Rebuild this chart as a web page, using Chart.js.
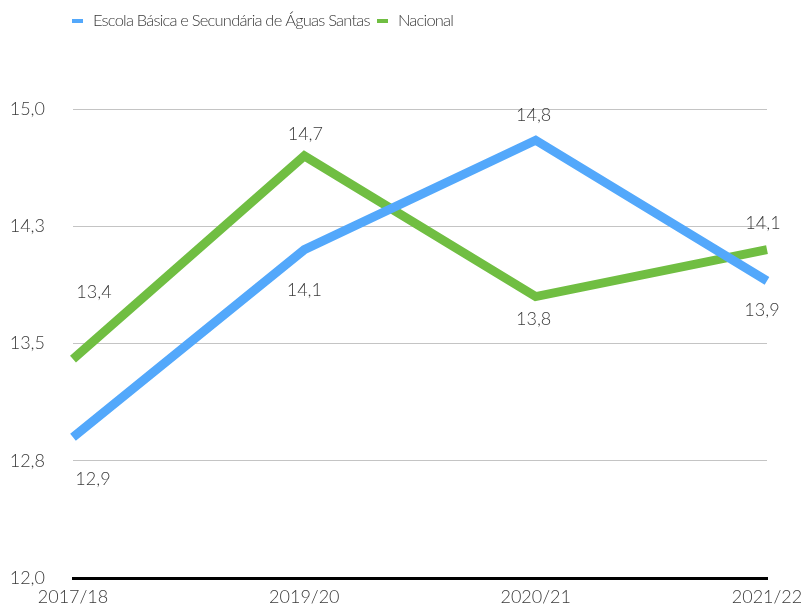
<!DOCTYPE html>
<html>
<head>
<meta charset="utf-8">
<script src="https://cdn.jsdelivr.net/npm/chart.js@4"></script>
<style>
  html, body { margin: 0; padding: 0; background: #fff; }
  #wrap { width: 804px; height: 611px; }
</style>
</head>
<body>
<div id="wrap"><canvas id="chart" width="804" height="611"></canvas></div>
<script>
// dados do gráfico
const anos = ["2017/18", "2019/20", "2020/21", "2021/22"];
const escola = [12.9, 14.1, 14.8, 13.9];
const nacional = [13.4, 14.7, 13.8, 14.1];
const nomes = ["Escola Básica e Secundária de Águas Santas", "Nacional"];
const yTicks = [12.0, 12.75, 13.5, 14.25, 15.0];

// posição dos rótulos em relação ao ponto (px)
const rotuloEscola = { dx: [20, 0, -2, -5], dy: [42, 40, -25, 29] };
const rotuloNacional = { dx: [21, 1, -2, -4], dy: [-67, -22, 23, -27] };

const FONTE = '"Gill Sans", "Gill Sans MT", Lato, sans-serif';
const COR_TEXTO = "#3a3a3a";
const AZUL = "#53a8fb";
const VERDE = "#70be42";

const fmt = v => v.toFixed(1).replace(".", ",");

// rótulos de dados + legenda desenhados sobre o canvas
const rotulos = {
  id: "rotulos",
  afterDatasetsDraw(chart) {
    const ctx = chart.ctx;
    ctx.save();
    ctx.font = `300 18px ${FONTE}`;
    ctx.fillStyle = COR_TEXTO;
    ctx.textAlign = "center";
    ctx.textBaseline = "middle";
    const offs = [rotuloEscola, rotuloNacional];
    chart.data.datasets.forEach((ds, i) => {
      chart.getDatasetMeta(i).data.forEach((pt, j) => {
        ctx.fillText(fmt(ds.data[j]), pt.x + offs[i].dx[j], pt.y + offs[i].dy[j]);
      });
    });

    // legenda
    const itens = [{ x: 72, cor: AZUL }, { x: 377, cor: VERDE }];
    ctx.font = `300 16.5px ${FONTE}`;
    ctx.letterSpacing = "-0.8px";
    ctx.textAlign = "left";
    itens.forEach((it, i) => {
      ctx.fillStyle = it.cor;
      ctx.fillRect(it.x, 19, 11, 4);
      ctx.fillStyle = COR_TEXTO;
      ctx.fillText(chart.data.datasets[i].label, it.x + 21, 21);
    });
    ctx.restore();
  }
};

new Chart(document.getElementById("chart"), {
  type: "line",
  data: {
    labels: anos,
    datasets: [
      { label: nomes[0], data: escola, borderColor: AZUL, backgroundColor: AZUL },
      { label: nomes[1], data: nacional, borderColor: VERDE, backgroundColor: VERDE }
    ]
  },
  options: {
    responsive: false,
    animation: false,
    layout: { padding: { top: 109, right: 37, left: 0, bottom: 0 } },
    elements: {
      line: { borderWidth: 9, tension: 0, borderCapStyle: "butt", borderJoinStyle: "miter" },
      point: { radius: 0, hoverRadius: 0 }
    },
    plugins: {
      legend: { display: false },
      tooltip: { enabled: false }
    },
    scales: {
      x: {
        offset: false,
        afterFit: s => { s.height = 33; s.paddingLeft = 0; s.paddingRight = 0; },
        grid: { display: false, drawTicks: false },
        border: { display: true, color: "#000", width: 3 },
        ticks: {
          padding: 8,
          maxRotation: 0,
          color: COR_TEXTO,
          font: { family: FONTE, size: 18, weight: 300 }
        }
      },
      y: {
        min: yTicks[0],
        max: yTicks[yTicks.length - 1],
        afterFit: s => { s.width = 73; s.paddingTop = 0; s.paddingBottom = 0; },
        afterBuildTicks: s => { s.ticks = yTicks.map(v => ({ value: v })); },
        grid: { color: "#c4c4c4", lineWidth: 1, drawTicks: false },
        border: { display: false },
        ticks: {
          padding: 28,
          color: COR_TEXTO,
          font: { family: FONTE, size: 18, weight: 300 },
          callback: v => fmt(v)
        }
      }
    }
  },
  plugins: [rotulos]
});
</script>
</body>
</html>
